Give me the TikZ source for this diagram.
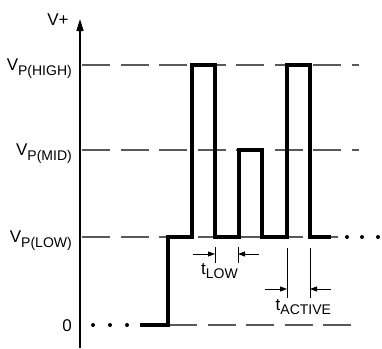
\documentclass[tikz,border=0pt]{standalone}
\usepackage{fontspec}
\setmainfont{Liberation Sans}
\usetikzlibrary{arrows.meta}
\newcommand{\sublbl}[2]{#1\raisebox{-4.5pt}{\fontsize{14}{16}\selectfont #2}}
\begin{document}
\begin{tikzpicture}[x=1pt,y=-1pt,
  lab/.style={inner sep=0pt,font=\fontsize{17}{19}\selectfont},
  levelline/.style={draw=black!65,line width=1.1pt,dash pattern=on 28pt off 10.5pt},
  signal/.style={draw=black,line width=4pt,line join=miter},
  axisline/.style={draw=black,line width=1.5pt,-{Triangle[length=12pt,width=7pt]}},
  marker/.style={draw=black,line width=0.8pt},
  dimarrow/.style={draw=black,line width=0.8pt,-{Triangle[length=7pt,width=5pt]}},
  dotmark/.style={circle,fill=black,inner sep=0pt,minimum size=4pt}]
\useasboundingbox (0,0) rectangle (382,348);
% axis
\coordinate (ax0) at (80,348);
\coordinate (ax1) at (80,19);
\draw[axisline] (ax0) -- (ax1);
\node[lab,anchor=base] (vplus) at (58,25) {V+};
% levels
\coordinate (h0) at (82,65);  \coordinate (h1) at (359,65);
\coordinate (m0) at (82,150); \coordinate (m1) at (359,150);
\coordinate (l0) at (82,237); \coordinate (l1) at (338,237);
\coordinate (z0) at (169,325);\coordinate (z1) at (351,325);
\draw[levelline] (h0) -- (h1);
\draw[levelline] (m0) -- (m1);
\draw[levelline] (l0) -- (l1);
\draw[levelline] (z0) -- (z1);
% labels
\node[lab,anchor=base east] (vhigh) at (72,70.5) {\sublbl{V}{P(HIGH)}};
\node[lab,anchor=base east] (vmid) at (72,155.5) {\sublbl{V}{P(MID)}};
\node[lab,anchor=base east] (vlow) at (72,242.5) {\sublbl{V}{P(LOW)}};
\node[lab,anchor=base east] (vzero) at (72,331.5) {0};
% signal
\draw[signal] (140,325) -- (168,325) -- (168,237) -- (192,237) -- (192,65)
  -- (215,65) -- (215,237) -- (239,237) -- (239,150) -- (262,150) -- (262,237)
  -- (287,237) -- (287,65) -- (310,65) -- (310,237) -- (331,237);
% dots
\node[dotmark] (d1) at (93,325) {};
\node[dotmark] (d2) at (110,325) {};
\node[dotmark] (d3) at (127,325) {};
\node[dotmark] (e1) at (347,237) {};
\node[dotmark] (e2) at (362,237) {};
\node[dotmark] (e3) at (378,237) {};
% t_LOW
\coordinate (la0) at (215,247); \coordinate (la1) at (215,263);
\coordinate (lb0) at (238,247); \coordinate (lb1) at (238,263);
\draw[marker] (la0) -- (la1);
\draw[marker] (lb0) -- (lb1);
\coordinate (lar) at (193,254); \coordinate (lat) at (215,254);
\coordinate (lbr) at (259,254); \coordinate (lbt) at (238,254);
\draw[dimarrow] (lar) -- (lat);
\draw[dimarrow] (lbr) -- (lbt);
\node[lab,anchor=base west] (tlow) at (201,274) {\sublbl{t}{LOW}};
% t_ACTIVE
\coordinate (aa0) at (287,248); \coordinate (aa1) at (287,298);
\coordinate (ab0) at (310,248); \coordinate (ab1) at (310,298);
\draw[marker] (aa0) -- (aa1);
\draw[marker] (ab0) -- (ab1);
\coordinate (aar) at (265,289); \coordinate (aat) at (287,289);
\coordinate (abr) at (331,289); \coordinate (abt) at (310,289);
\draw[dimarrow] (aar) -- (aat);
\draw[dimarrow] (abr) -- (abt);
\node[lab,anchor=base west] (tact) at (275.5,310) {\sublbl{t}{ACTIVE}};
\end{tikzpicture}
\end{document}
